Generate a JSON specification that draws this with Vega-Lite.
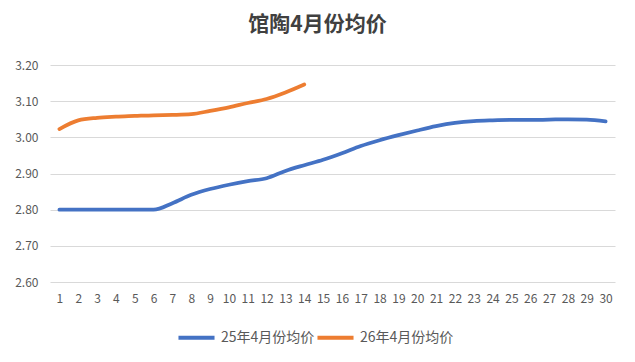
{
  "$schema": "https://vega.github.io/schema/vega-lite/v6.json",
  "width": 565,
  "height": 217,
  "autosize": {"type": "none"},
  "padding": {"left": 50, "top": 65, "right": 20, "bottom": 80},
  "background": "white",
  "title": {
    "text": "馆陶4月份均价",
    "font": "Noto Sans CJK SC",
    "fontSize": 21,
    "fontWeight": "bold",
    "color": "#404040",
    "anchor": "middle",
    "dx": -15,
    "offset": 24
  },
  "config": {
    "view": {"stroke": null},
    "axis": {
      "labelFont": "Noto Sans CJK SC",
      "labelFontSize": 12,
      "labelColor": "#595959",
      "gridColor": "#D9D9D9",
      "gridWidth": 1,
      "domain": false,
      "ticks": false,
      "title": null
    }
  },
  "data": {
    "values": [
      {"day": 1, "series": "25年4月份均价", "price": 2.800},
      {"day": 2, "series": "25年4月份均价", "price": 2.800},
      {"day": 3, "series": "25年4月份均价", "price": 2.800},
      {"day": 4, "series": "25年4月份均价", "price": 2.800},
      {"day": 5, "series": "25年4月份均价", "price": 2.800},
      {"day": 6, "series": "25年4月份均价", "price": 2.800},
      {"day": 7, "series": "25年4月份均价", "price": 2.818},
      {"day": 8, "series": "25年4月份均价", "price": 2.841},
      {"day": 9, "series": "25年4月份均价", "price": 2.857},
      {"day": 10, "series": "25年4月份均价", "price": 2.869},
      {"day": 11, "series": "25年4月份均价", "price": 2.879},
      {"day": 12, "series": "25年4月份均价", "price": 2.887},
      {"day": 13, "series": "25年4月份均价", "price": 2.907},
      {"day": 14, "series": "25年4月份均价", "price": 2.923},
      {"day": 15, "series": "25年4月份均价", "price": 2.938},
      {"day": 16, "series": "25年4月份均价", "price": 2.956},
      {"day": 17, "series": "25年4月份均价", "price": 2.976},
      {"day": 18, "series": "25年4月份均价", "price": 2.992},
      {"day": 19, "series": "25年4月份均价", "price": 3.006},
      {"day": 20, "series": "25年4月份均价", "price": 3.019},
      {"day": 21, "series": "25年4月份均价", "price": 3.031},
      {"day": 22, "series": "25年4月份均价", "price": 3.040},
      {"day": 23, "series": "25年4月份均价", "price": 3.045},
      {"day": 24, "series": "25年4月份均价", "price": 3.047},
      {"day": 25, "series": "25年4月份均价", "price": 3.048},
      {"day": 26, "series": "25年4月份均价", "price": 3.048},
      {"day": 27, "series": "25年4月份均价", "price": 3.049},
      {"day": 28, "series": "25年4月份均价", "price": 3.050},
      {"day": 29, "series": "25年4月份均价", "price": 3.049},
      {"day": 30, "series": "25年4月份均价", "price": 3.044},
      {"day": 1, "series": "26年4月份均价", "price": 3.023},
      {"day": 2, "series": "26年4月份均价", "price": 3.047},
      {"day": 3, "series": "26年4月份均价", "price": 3.054},
      {"day": 4, "series": "26年4月份均价", "price": 3.057},
      {"day": 5, "series": "26年4月份均价", "price": 3.059},
      {"day": 6, "series": "26年4月份均价", "price": 3.061},
      {"day": 7, "series": "26年4月份均价", "price": 3.062},
      {"day": 8, "series": "26年4月份均价", "price": 3.064},
      {"day": 9, "series": "26年4月份均价", "price": 3.073},
      {"day": 10, "series": "26年4月份均价", "price": 3.083},
      {"day": 11, "series": "26年4月份均价", "price": 3.095},
      {"day": 12, "series": "26年4月份均价", "price": 3.106},
      {"day": 13, "series": "26年4月份均价", "price": 3.124},
      {"day": 14, "series": "26年4月份均价", "price": 3.146}
    ]
  },
  "mark": {"type": "line", "interpolate": "monotone", "strokeWidth": 3.75, "strokeCap": "round"},
  "encoding": {
    "x": {
      "field": "day",
      "type": "ordinal",
      "scale": {"domain": [1,2,3,4,5,6,7,8,9,10,11,12,13,14,15,16,17,18,19,20,21,22,23,24,25,26,27,28,29,30], "paddingOuter": 0.5},
      "axis": {"labelAngle": 0, "grid": false, "labelPadding": 11}
    },
    "y": {
      "field": "price",
      "type": "quantitative",
      "scale": {"domain": [2.6, 3.2], "nice": false, "zero": false},
      "axis": {"values": [2.6, 2.7, 2.8, 2.9, 3.0, 3.1, 3.2], "format": ".2f", "labelPadding": 12}
    },
    "color": {
      "field": "series",
      "type": "nominal",
      "scale": {"domain": ["25年4月份均价", "26年4月份均价"], "range": ["#4472C4", "#ED7D31"]},
      "legend": {
        "title": null,
        "orient": "none",
        "legendX": 126,
        "legendY": 252,
        "direction": "horizontal",
        "symbolType": "stroke",
        "symbolSize": 1300,
        "symbolStrokeWidth": 4,
        "labelFont": "Noto Sans CJK SC",
        "labelFontSize": 14,
        "labelColor": "#595959",
        "labelOffset": 4,
        "columnPadding": -7
      }
    }
  }
}
